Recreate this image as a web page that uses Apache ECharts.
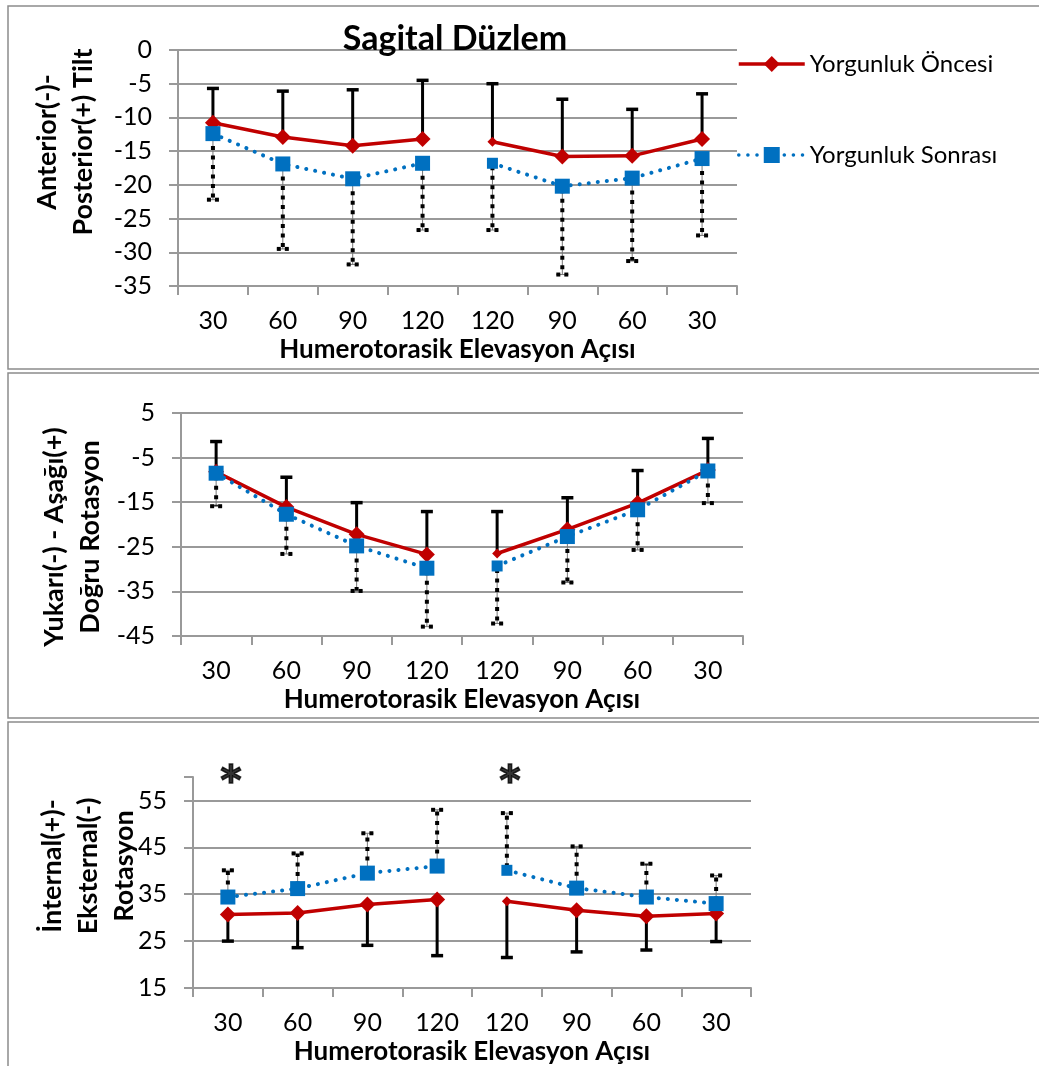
<!DOCTYPE html>
<html><head><meta charset="utf-8">
<script src="https://cdn.jsdelivr.net/npm/echarts@6/dist/echarts.min.js"></script>
<style>html,body{margin:0;padding:0;background:#fff}#c{width:1039px;height:1066px}</style>
</head><body><div id="c"></div>
<script>
// ---------- data ----------
const categories = ['30', '60', '90', '120', '120', '90', '60', '30'];
const seriesNames = ['Yorgunluk Öncesi', 'Yorgunluk Sonrası'];
const chartTitle = 'Sagital Düzlem';
const xTitle = 'Humerotorasik Elevasyon Açısı';

// Panel 1: Anterior/Posterior tilt
const tiltPre = [-10.8, -12.9, -14.2, -13.2, -13.6, -15.8, -15.7, -13.2];
const tiltPreSD = [5.1, 6.8, 8.3, 8.7, 8.6, 8.5, 6.9, 6.7];
const tiltPost = [-12.4, -16.9, -19.1, -16.8, -16.8, -20.2, -19.0, -16.1];
const tiltPostSD = [9.8, 12.6, 12.7, 9.9, 9.9, 13.1, 12.3, 11.4];

// Panel 2: upward/downward rotation
const rotPre = [-8.2, -16.1, -22.2, -26.7, -26.5, -21.1, -15.2, -7.8];
const rotPreSD = [6.8, 6.7, 7.1, 9.6, 9.4, 7.1, 7.3, 7.1];
const rotPost = [-8.5, -17.7, -24.8, -29.8, -29.3, -22.7, -16.7, -8.0];
const rotPostSD = [7.4, 8.9, 10.1, 13.1, 12.9, 10.3, 9.0, 7.2];

// Panel 3: internal/external rotation
const ierPre = [30.7, 31.0, 32.8, 33.9, 33.5, 31.6, 30.3, 30.9];
const ierPreSD = [5.7, 7.4, 8.7, 12.0, 12.0, 8.9, 7.2, 6.0];
const ierPost = [34.4, 36.2, 39.5, 41.0, 40.1, 36.3, 34.4, 33.0];
const ierPostSD = [5.7, 7.5, 8.5, 12.0, 12.2, 8.9, 7.1, 6.0];

const yNames = [
  ['Anterior(-)-', 'Posterior(+) Tilt'],
  ['Yukarı(-) - Aşağı(+)', 'Doğru Rotasyon'],
  ['İnternal(+)-', 'Eksternal(-)', 'Rotasyon']
];
const significance = ['*', '', '', '', '*', '', '', ''];

// ---------- style ----------
const FONT = 'Lato';
const GRAY = '#999999';
const RED = '#C00000';
const BLUE = '#0070C0';

const chart = echarts.init(document.getElementById('c'), null, {renderer: 'canvas'});

const grids = [
  {left: 178, top: 50, width: 559, height: 236},
  {left: 181, top: 413, width: 562, height: 223},
  {left: 193, top: 777, width: 558, height: 211}
];
const yRanges = [
  {min: -35, max: 0, interval: 5},
  {min: -45, max: 5, interval: 10},
  {min: 15, max: 60, interval: 10}
];

function xAxis(i) {
  return {
    type: 'category', gridIndex: i, data: categories, boundaryGap: true,
    axisLine: {show: true, onZero: false, lineStyle: {color: GRAY, width: 2}},
    axisTick: {show: true, length: 9, lineStyle: {color: GRAY, width: 2}},
    axisLabel: {margin: 22, fontSize: 25, color: '#000', fontFamily: FONT, interval: 0},
    splitLine: {show: false},
    name: xTitle, nameLocation: 'middle', nameGap: 51,
    nameTextStyle: {fontSize: 26, fontWeight: 'bold', color: '#000', fontFamily: FONT}
  };
}
function yAxis(i) {
  const r = yRanges[i];
  const top = r.max;
  return {
    type: 'value', gridIndex: i, min: r.min, max: r.max, interval: r.interval,
    axisLine: {show: true, onZero: false, lineStyle: {color: GRAY, width: 2}},
    axisTick: {show: true, length: 9, lineStyle: {color: GRAY, width: 2}},
    axisLabel: {margin: 26, fontSize: 25, color: '#000', fontFamily: FONT,
      formatter: v => (i === 2 && v === top) ? '' : String(v)},
    splitLine: {show: true, lineStyle: {width: 2,
      color: i === 2 ? [GRAY, GRAY, GRAY, GRAY, GRAY, 'rgba(0,0,0,0)'] : GRAY}}
  };
}

function lineSeries(name, values, gi, color, symbol, big, small, dotted) {
  return [0, 1].map(h => ({
    type: 'line', name, xAxisIndex: gi, yAxisIndex: gi,
    data: values.map((v, i) => ((h === 0 ? i < 4 : i >= 4) ? v : null)),
    connectNulls: false, symbol, showSymbol: true,
    symbolSize: (v, p) => (p.dataIndex === 4 ? small : big),
    itemStyle: {color: color, borderWidth: 0},
    lineStyle: dotted ? {color, width: 4, type: [0.1, 9], cap: 'round'} : {color, width: 3.5},
    z: dotted ? 5 : 4, animation: false, silent: true
  }));
}

function errSeries(values, sds, dir, gi, dotted) {
  return {
    type: 'custom', name: 'err' + gi + (dotted ? 'b' : 'a'), xAxisIndex: gi, yAxisIndex: gi, z: 2, silent: true,
    animation: false,
    data: values.map((v, i) => [i, v, v + dir * sds[i]]),
    encode: {x: 0, y: [1, 2]},
    renderItem(params, api) {
      const x = api.value(0);
      const p1 = api.coord([x, api.value(1)]);
      const p2 = api.coord([x, api.value(2)]);
      const half = 6;
      if (!dotted) {
        return {type: 'group', children: [
          {type: 'line', shape: {x1: p1[0], y1: p1[1], x2: p2[0], y2: p2[1]}, style: {stroke: '#000', lineWidth: 3}},
          {type: 'line', shape: {x1: p2[0] - half, y1: p2[1], x2: p2[0] + half, y2: p2[1]}, style: {stroke: '#000', lineWidth: 3.5}}
        ]};
      }
      return {type: 'group', children: [
        {type: 'line', shape: {x1: p1[0], y1: p1[1], x2: p2[0], y2: p2[1]}, style: {stroke: '#777', lineWidth: 1}},
        {type: 'line', shape: {x1: p1[0], y1: p1[1] + dir * -3, x2: p2[0], y2: p2[1]}, style: {stroke: '#000', lineWidth: 4, lineDash: [4, 5.5]}},
        {type: 'line', shape: {x1: p2[0] - half, y1: p2[1], x2: p2[0] + half, y2: p2[1]}, style: {stroke: '#777', lineWidth: 1}},
        {type: 'line', shape: {x1: p2[0] - half, y1: p2[1], x2: p2[0] + half, y2: p2[1]}, style: {stroke: '#000', lineWidth: 4, lineDash: [4, 4]}}
      ]};
    }
  };
}

const series = [
  errSeries(tiltPre, tiltPreSD, 1, 0, false),
  errSeries(tiltPost, tiltPostSD, -1, 0, true),
  ...lineSeries(seriesNames[0], tiltPre, 0, RED, 'diamond', 16, 10, false),
  ...lineSeries(seriesNames[1], tiltPost, 0, BLUE, 'rect', 15, 11, true),

  errSeries(rotPre, rotPreSD, 1, 1, false),
  errSeries(rotPost, rotPostSD, -1, 1, true),
  ...lineSeries(seriesNames[0], rotPre, 1, RED, 'diamond', 16, 10, false),
  ...lineSeries(seriesNames[1], rotPost, 1, BLUE, 'rect', 15, 11, true),

  errSeries(ierPre, ierPreSD, -1, 2, false),
  errSeries(ierPost, ierPostSD, 1, 2, true),
  ...lineSeries(seriesNames[0], ierPre, 2, RED, 'diamond', 16, 10, false),
  ...lineSeries(seriesNames[1], ierPost, 2, BLUE, 'rect', 15, 11, true),
  // significance markers (asterisks) placed above category positions
  {
    type: 'scatter', xAxisIndex: 2, yAxisIndex: 2, silent: true, animation: false,
    data: significance.map((s, i) => (s ? [i, 60] : null)).filter(d => d),
    symbolSize: 0, itemStyle: {color: 'transparent'},
    label: {show: true, formatter: '*', position: 'inside', offset: [3, 7],
      fontSize: 40, fontWeight: 'bold', color: '#000', fontFamily: 'DejaVu Sans',
      textBorderColor: '#000', textBorderWidth: 1.5}
  }
];

const graphic = [
  {type: 'rect', shape: {x: 8, y: 6, width: 1040, height: 363}, style: {fill: 'none', stroke: '#8c8c8c', lineWidth: 1.5}, silent: true, z: -1},
  {type: 'rect', shape: {x: 8, y: 373, width: 1040, height: 345}, style: {fill: 'none', stroke: '#8c8c8c', lineWidth: 1.5}, silent: true, z: -1},
  {type: 'rect', shape: {x: 8, y: 722, width: 1040, height: 360}, style: {fill: 'none', stroke: '#8c8c8c', lineWidth: 1.5}, silent: true, z: -1},
  {type: 'text', x: 455, y: 39, z: 100, silent: true,
    style: {text: chartTitle, font: 'bold 34px ' + FONT, fill: '#000', textAlign: 'center', textVerticalAlign: 'middle'}}
];
const nameCenters = [[65, 142], [72, 537], [88, 866]];
yNames.forEach((lines, i) => {
  graphic.push({type: 'text', x: nameCenters[i][0], y: nameCenters[i][1], rotation: Math.PI / 2, z: 100, silent: true,
    style: {text: lines.join('\n'), font: 'bold 27px ' + FONT, lineHeight: 36, fill: '#000',
      textAlign: 'center', textVerticalAlign: 'middle'}});
});

chart.setOption({
  animation: false,
  backgroundColor: '#fff',
  textStyle: {fontFamily: FONT},
  grid: grids,
  xAxis: [0, 1, 2].map(xAxis),
  yAxis: [0, 1, 2].map(yAxis),
  legend: {
    data: seriesNames, orient: 'vertical', left: 732, top: 47,
    itemWidth: 66, itemHeight: 20, itemGap: 67, selectedMode: false,
    lineStyle: {width: 3.5},
    textStyle: {fontSize: 24, color: '#000', fontFamily: FONT}
  },
  series,
  graphic
});
</script></body></html>
